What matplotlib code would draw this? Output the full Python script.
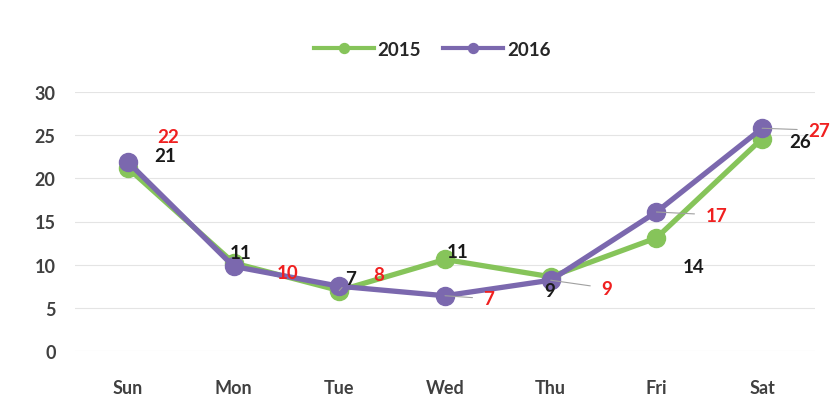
import matplotlib.pyplot as plt

days = ['Sun', 'Mon', 'Tue', 'Wed', 'Thu', 'Fri', 'Sat']
vals_2015 = [21.2, 10.2, 7.0, 10.6, 8.6, 13.1, 24.6]
vals_2016 = [21.9, 9.8, 7.5, 6.4, 8.2, 16.1, 25.8]
labels_2015 = ['21', '11', '7', '11', '9', '14', '26']
labels_2016 = ['22', '10', '8', '7', '9', '17', '27']

# label offsets in pixels (dx, dy) from the marker
offs_2015 = [(37, 12), (7, 10), (11, 12), (13, 8), (-1, -14), (37, -29), (38, -3)]
offs_2016 = [(40, 25), (54, -6), (39, 12), (44, -3), (56, -8), (60, -3), (57, -2)]
lead_2015 = [False, False, True, False, False, False, False]
lead_2016 = [False, False, False, True, True, True, True]

green = '#86c45a'
purple = '#7b68ae'
font = 'Lato'

fig = plt.figure(figsize=(8.3, 4.14), dpi=100)
ax = fig.add_axes([75 / 830, (414 - 352) / 414, 740 / 830, 259 / 414])

x = list(range(len(days)))
ax.plot(x, vals_2015, color=green, lw=3.8, marker='o', ms=13, label='2015', zorder=3)
ax.plot(x, vals_2016, color=purple, lw=3.8, marker='o', ms=13, label='2016', zorder=4)


def put_labels(vals, labels, offs, leads, color):
    for i, (v, t, (dx, dy), ld) in enumerate(zip(vals, labels, offs, leads)):
        ax.annotate(t, (i, v), xytext=(dx * 0.72, dy * 0.72), textcoords='offset points',
                    ha='center', va='center', color=color, fontsize=13.5, fontweight='bold',
                    family=font, zorder=6,
                    arrowprops=dict(arrowstyle='-', color='#a0a0a0', lw=0.8,
                                    shrinkA=6, shrinkB=0) if ld else None)


put_labels(vals_2015, labels_2015, offs_2015, lead_2015, '#1a1a1a')
put_labels(vals_2016, labels_2016, offs_2016, lead_2016, '#f02020')

ax.set_xlim(-0.5, 6.5)
ax.set_ylim(0, 30)
ax.set_yticks(range(0, 31, 5))
ax.set_xticks(x)
ax.set_xticklabels(days)
ax.grid(axis='y', color='#e4e4e4', lw=0.8)
ax.set_axisbelow(True)
for s in ax.spines.values():
    s.set_visible(False)
ax.tick_params(axis='y', length=0, labelsize=13, labelcolor='#404040', pad=14)
ax.tick_params(axis='x', length=0, labelsize=13, labelcolor='#404040', pad=20)
for lbl in ax.get_xticklabels() + ax.get_yticklabels():
    lbl.set_fontweight('bold')
    lbl.set_family(font)

leg = fig.legend(loc='center', bbox_to_anchor=(432 / 830, 1 - 50 / 414), ncol=2, frameon=False,
                 prop={'family': font, 'weight': 'bold', 'size': 13.5}, handlelength=3.2,
                 columnspacing=1.2, handletextpad=0.2, markerscale=0.55)
for t in leg.get_texts():
    t.set_color('#262626')
for h in leg.legend_handles:
    h.set_linewidth(3)

fig.savefig('out.png', dpi=100, facecolor='white')
